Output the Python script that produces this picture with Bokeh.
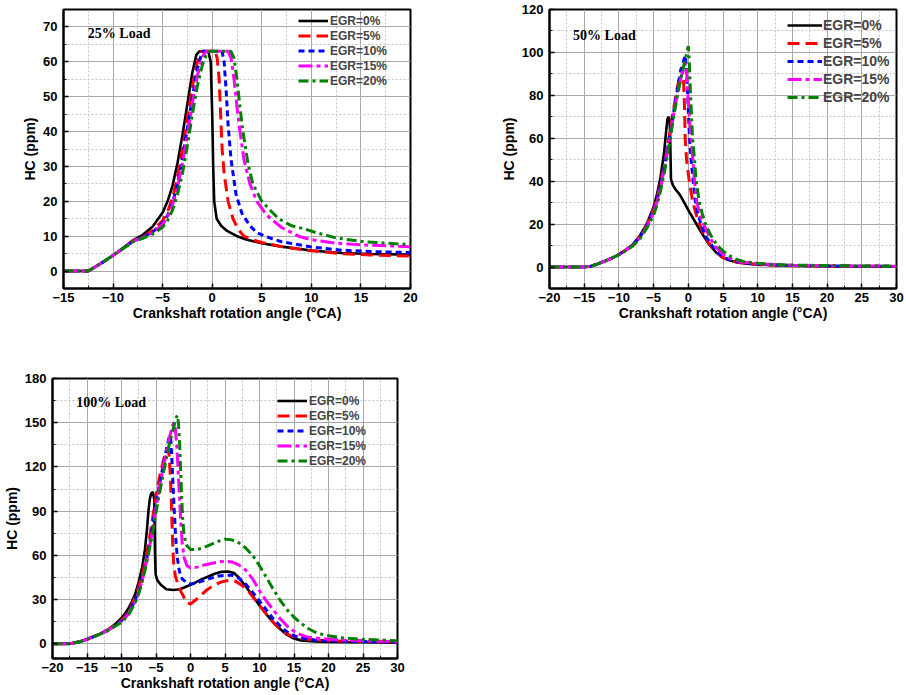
from bokeh.plotting import figure
from bokeh.layouts import column, row
from bokeh.models import SingleIntervalTicker, Label, Range1d
from bokeh.embed import file_html
from bokeh.resources import INLINE

# ---------------- data ----------------
EGR_LABELS = ["EGR=0%", "EGR=5%", "EGR=10%", "EGR=15%", "EGR=20%"]
X_TITLE = "Crankshaft rotation angle (°CA)"
Y_TITLE = "HC (ppm)"

# 25% load
l25_x0 = [-15, -12.5, -11, -10, -9, -8, -7, -6, -5, -4.5, -4, -3.5, -3, -2.5, -2, -1.6, -1.3, -0.4, -0.15, 0, 0.1, 0.2, 0.45, 0.9, 1.5, 2.5, 3.5, 5, 7, 10, 13, 16, 20]
l25_y0 = [0, 0, 2.6, 4.5, 6.6, 8.8, 10.4, 12.8, 16.8, 20, 24.5, 31, 39, 48, 57, 62, 63, 63, 60, 45, 30, 20, 15, 13, 11.5, 10, 9, 8, 7, 5.9, 5.2, 4.9, 4.7]
l25_x5 = [-15, -12.5, -11, -10, -9, -8, -7, -6, -5, -4.5, -4, -3.5, -3, -2.5, -2, -1.5, -1.1, 0.3, 0.5, 0.7, 0.85, 1.0, 1.2, 1.6, 2.1, 2.6, 3.2, 4, 5, 7, 10, 13, 16, 20]
l25_y5 = [0, 0, 2.6, 4.5, 6.5, 8.6, 9.8, 11.6, 14.5, 17, 21, 27, 35, 44, 53, 60, 63, 63, 61, 55, 45, 35, 28, 20, 15, 12, 10, 9, 8.2, 7, 5.8, 5, 4.6, 4.3]
l25_x10 = [-15, -12.5, -11, -10, -9, -8, -7, -6, -5, -4.5, -4, -3.5, -3, -2.5, -2, -1.5, -1.0, 1.0, 1.2, 1.4, 1.6, 1.9, 2.4, 3.0, 3.8, 4.5, 5.5, 7, 10, 13, 16, 20]
l25_y10 = [0, 0, 2.6, 4.5, 6.5, 8.5, 9.7, 11.2, 13.8, 16, 19.5, 25, 32.5, 41, 50, 58, 63, 63, 60, 52, 42, 32, 22, 16.5, 13, 11, 9.8, 8.4, 6.9, 6, 5.6, 5.3]
l25_x15 = [-15, -12.5, -11, -10, -9, -8, -7, -6, -5, -4.5, -4, -3.5, -3, -2.5, -2, -1.5, -1.0, -0.6, 1.6, 1.9, 2.2, 2.5, 2.8, 3.2, 3.8, 4.5, 5.5, 7, 8.7, 10, 12.5, 15, 20]
l25_y15 = [0, 0, 2.6, 4.5, 6.5, 8.5, 9.6, 11, 13.4, 15.5, 19, 24, 31, 39, 48, 56, 61.5, 63, 63, 61, 55, 47, 40, 32, 25, 20, 16, 12.5, 10, 9, 8, 7.5, 7]
l25_x20 = [-15, -12.5, -11, -10, -9, -8, -7, -6, -5, -4.5, -4, -3.5, -3, -2.5, -2, -1.5, -1.0, -0.6, -0.3, 1.9, 2.2, 2.5, 2.8, 3.1, 3.6, 4.1, 5.0, 6, 6.7, 8, 9.4, 10.5, 12.5, 15, 17.5, 20]
l25_y20 = [0, 0, 2.6, 4.5, 6.4, 8.4, 9.4, 10.6, 12.6, 14.5, 17.5, 22, 28, 36, 45, 53, 59, 62, 63, 63, 61, 55, 47, 40, 31, 25, 20, 17, 15, 13, 12, 11, 9.5, 8.5, 8, 7.6]

# 50% load
l50_x0 = [-20, -15, -14, -13, -12, -11, -10, -9, -8, -7, -6, -5, -4.5, -4, -3.5, -3.2, -3.0, -2.8, -2.65, -2.55, -2.5, -2.2, -1.8, -1.4, -1, -0.5, 0, 1, 2, 3, 4, 5, 6, 7, 8.5, 10, 15, 20, 25, 30]
l50_y0 = [0, 0, 0.4, 1.5, 2.8, 4.2, 5.8, 8, 10.5, 14.5, 20, 28, 34, 42, 53, 63, 69, 70, 66, 50, 41, 38, 36, 34.5, 32.5, 29.5, 26.5, 21, 15.5, 10.5, 6.8, 4.3, 3, 2.2, 1.5, 1.1, 0.6, 0.4, 0.3, 0.2]
l50_x5 = [-20, -15, -14, -13, -12, -11, -10, -9, -8, -7, -6, -5, -4.5, -4, -3.5, -3, -2.5, -2, -1.5, -1.1, -0.9, -0.7, -0.55, -0.45, -0.25, 0.1, 0.6, 1.0, 1.6, 2.4, 3.3, 4.7, 6, 7, 10, 15, 20, 25, 30]
l50_y5 = [0, 0, 0.4, 1.5, 2.8, 4.2, 5.8, 8, 10.3, 14, 19.5, 27, 32, 39, 47, 56, 66, 76, 85, 92, 93, 88, 75, 60, 50, 41, 31, 26, 20, 14, 9.5, 5, 3, 2.2, 1.2, 0.6, 0.5, 0.4, 0.3]
l50_x10 = [-20, -15, -14, -13, -12, -11, -10, -9, -8, -7, -6, -5, -4.5, -4, -3.5, -3, -2.5, -2, -1.5, -1, -0.6, -0.4, -0.25, -0.1, 0.15, 0.4, 0.7, 1.0, 1.4, 1.8, 2.5, 3.5, 4.5, 5.5, 7, 10, 15, 20, 25, 30]
l50_y10 = [0, 0, 0.4, 1.5, 2.8, 4.2, 5.8, 7.9, 10.2, 13.8, 19, 26.5, 31.5, 38, 46, 55, 64.5, 74.5, 84, 92, 97, 98.5, 90, 80, 62, 50, 40, 31, 25, 20, 14.5, 9.5, 6, 4, 2.5, 1.3, 0.7, 0.5, 0.4, 0.3]
l50_x15 = [-20, -15, -14, -13, -12, -11, -10, -9, -8, -7, -6, -5, -4.5, -4, -3.5, -3, -2.5, -2, -1.5, -1, -0.6, -0.4, -0.25, -0.1, 0.1, 0.4, 0.65, 0.9, 1.25, 1.7, 2.2, 3, 3.75, 5, 6, 7.5, 10, 15, 20, 25, 30]
l50_y15 = [0, 0, 0.4, 1.5, 2.8, 4.2, 5.8, 7.8, 10, 13.5, 18.5, 25.5, 30.5, 37, 45, 54, 63.5, 73.5, 82, 89, 93, 95, 92, 82, 72, 60, 50, 40, 30, 24, 20, 14.5, 10, 6, 4, 2.5, 1.5, 0.8, 0.6, 0.5, 0.4]
l50_x20 = [-20, -15, -14, -13, -12, -11, -10, -9, -8, -7, -6, -5, -4.5, -4, -3.5, -3, -2.5, -2, -1.5, -1, -0.5, -0.2, 0, 0.15, 0.3, 0.6, 0.9, 1.1, 1.6, 2.0, 2.5, 3.2, 4.2, 5, 5.8, 7, 8, 10, 12, 15, 20, 25, 30]
l50_y20 = [0, 0, 0.4, 1.5, 2.8, 4.2, 5.7, 7.6, 9.8, 13, 18, 24, 29, 35.5, 43, 52, 62, 72, 81, 89, 96, 100, 103, 95, 82, 61, 50, 41, 30, 25, 20, 15, 10, 7.5, 5.5, 3.5, 2.5, 1.8, 1.2, 0.9, 0.7, 0.5, 0.4]

# 100% load
l100_x0 = [-20, -17.5, -16, -15, -14, -13, -12, -11, -10, -9.5, -9, -8.5, -8, -7.5, -7, -6.6, -6.3, -6.1, -5.9, -5.7, -5.45, -5.25, -5.2, -5.15, -5.05, -4.8, -4.3, -3.5, -2.5, -1.5, -0.5, 0.5, 1.5, 2.5, 3.5, 4.5, 5.5, 6.3, 7, 8, 9, 10, 11, 12, 13, 14, 15, 16, 18, 20, 25, 30]
l100_y0 = [0, 0, 1.5, 3.2, 5, 7, 9.5, 13, 17.5, 20.5, 24, 28.5, 34, 42, 52, 64, 78, 90, 98, 102, 103, 98, 80, 62, 47, 43, 40, 37, 36.5, 37, 39, 41, 43.5, 45.5, 47.5, 48.8, 49, 48, 45, 39, 32.5, 26, 20, 14.5, 10, 6, 3.5, 2.3, 1.5, 1.2, 1, 0.8]
l100_x5 = [-20, -17.5, -16, -15, -14, -13, -12, -11, -10, -9.5, -9, -8.5, -8, -7.5, -7, -6.5, -6, -5.5, -5, -4.5, -4, -3.6, -3.3, -3.1, -2.9, -2.75, -2.6, -2.45, -2.2, -1.8, -1.4, -1.1, -0.6, 0, 0.7, 1.5, 2.5, 3.5, 4.5, 5.5, 6.5, 7.5, 8.5, 9.5, 10.5, 11.5, 12.5, 13.5, 14.5, 16, 18, 20, 25, 30]
l100_y5 = [0, 0, 1.5, 3.2, 5, 7, 9.3, 12.3, 16, 18.5, 22, 26.5, 32, 38.5, 47, 57, 70, 85, 100, 113, 123, 130, 133, 128, 112, 92, 70, 55, 46, 40, 35.5, 33, 28, 27, 29.5, 33, 37, 40, 42, 43, 42.5, 39.5, 35, 29, 23, 17, 12, 8, 5.5, 3.5, 2.5, 2, 1.5, 1.2]
l100_x10 = [-20, -17.5, -16, -15, -14, -13, -12, -11, -10, -9, -8, -7.5, -7, -6.5, -6, -5.5, -5, -4.5, -4, -3.5, -3.1, -2.9, -2.75, -2.55, -2.35, -2.15, -1.9, -1.6, -1.2, -0.6, 0, 1, 2, 3, 4, 5, 6, 7, 8, 9, 10, 11, 12, 13, 14, 15, 16, 18, 20, 25, 30]
l100_y10 = [0, 0, 1.4, 3, 4.8, 6.8, 9, 12, 15.5, 20.5, 30, 36, 44, 54, 66, 80, 95, 108, 120, 132, 140, 141, 130, 110, 90, 72, 58, 49, 44, 41.5, 40.5, 41.5, 43, 44.5, 46, 46.5, 46.5, 44.5, 40.5, 35, 29, 23, 17, 12, 8, 5.5, 4, 2.5, 2, 1.5, 1.2]
l100_x15 = [-20, -17.5, -16, -15, -14, -13, -12, -11, -10, -9, -8, -7.5, -7, -6.5, -6, -5.5, -5, -4.5, -4, -3.5, -3, -2.6, -2.4, -2.2, -2.0, -1.8, -1.6, -1.4, -1.2, -0.9, -0.5, 0, 1, 2, 3, 4, 5, 6, 7, 8, 9, 10, 11, 12, 13, 14, 15, 16, 17, 19, 22, 25, 30]
l100_y15 = [0, 0, 1.4, 3, 4.8, 6.8, 9, 12, 15, 20, 29, 35, 43, 53, 64, 77, 92, 106, 118, 130, 141, 148, 150, 146, 135, 118, 100, 82, 68, 58, 53, 51.5, 52, 53.5, 54.5, 55.5, 56, 55.5, 53.5, 50, 44, 36, 29, 23, 17, 12, 8.5, 6, 4.5, 3.5, 2.5, 2, 1.5]
l100_x20 = [-20, -17.5, -16, -15, -14, -13, -12, -11, -10, -9, -8, -7.5, -7, -6.5, -6, -5.5, -5, -4.5, -4, -3.5, -3, -2.5, -2.1, -1.9, -1.75, -1.6, -1.45, -1.3, -1.15, -0.95, -0.6, 0, 1, 2, 3, 4, 5, 6, 7, 8, 9, 10, 11, 12, 13, 14, 15, 16, 17, 18, 19, 20, 22, 25, 28, 30]
l100_y20 = [0, 0, 1.4, 3, 4.8, 6.7, 8.8, 11.7, 14.5, 19.5, 28, 34, 42, 52, 63, 75, 89, 102, 114, 126, 137, 146, 153, 155, 150, 138, 120, 102, 86, 74, 67, 64, 64, 65.5, 67.5, 69.5, 71, 70.5, 68.5, 65, 60, 53, 45, 37, 29.5, 23, 18, 14, 10.5, 8, 6.5, 5.5, 4, 3, 2.5, 2]

PANELS = [
    {"load": "25% Load", "xr": (-15, 20), "yr": (-5, 75), "yint": 10,
     "xs": [l25_x0, l25_x5, l25_x10, l25_x15, l25_x20],
     "ys": [l25_y0, l25_y5, l25_y10, l25_y15, l25_y20],
     "load_at": (-12.55, 68)},
    {"load": "50% Load", "xr": (-20, 30), "yr": (-10, 120), "yint": 20,
     "xs": [l50_x0, l50_x5, l50_x10, l50_x15, l50_x20],
     "ys": [l50_y0, l50_y5, l50_y10, l50_y15, l50_y20],
     "load_at": (-16.6, 108)},
    {"load": "100% Load", "xr": (-20, 30), "yr": (-10, 180), "yint": 30,
     "xs": [l100_x0, l100_x5, l100_x10, l100_x15, l100_x20],
     "ys": [l100_y0, l100_y5, l100_y10, l100_y15, l100_y20],
     "load_at": (-16.55, 163.5)},
]

# ---------------- styles ----------------
COLORS = ["#000000", "#ff0000", "#0000ff", "#ff00ff", "#008000"]
DASHES = ["solid", "12 6", "6 4", "14 4 4 4", "10 4 3 4"]
WIDTHS = [2.6, 3, 3, 3, 3]
SANS = "Liberation Sans"
SERIF = "Liberation Serif"


def make_panel(cfg, width, height, mb, legend_cfg):
    p = figure(width=width, height=height, output_backend="svg", toolbar_location=None,
               x_range=Range1d(*cfg["xr"]), y_range=Range1d(*cfg["yr"]),
               min_border_left=mb[0], min_border_right=mb[1],
               min_border_top=mb[2], min_border_bottom=mb[3])
    p.background_fill_color = "white"
    p.border_fill_color = "white"
    p.outline_line_color = "black"
    p.outline_line_width = 2
    p.outline_line_alpha = 1

    xt = SingleIntervalTicker(interval=5, num_minor_ticks=2)
    yt = SingleIntervalTicker(interval=cfg["yint"], num_minor_ticks=2)
    p.xaxis.ticker = xt
    p.yaxis.ticker = yt
    p.xgrid.ticker = xt
    p.ygrid.ticker = yt

    for ax in (p.xaxis[0], p.yaxis[0]):
        ax.axis_line_color = "black"
        ax.axis_line_width = 2
        ax.major_tick_in = 5
        ax.major_tick_out = 0
        ax.minor_tick_in = 3
        ax.minor_tick_out = 0
        ax.major_tick_line_width = 1.5
        ax.major_tick_line_color = "black"
        ax.minor_tick_line_color = "black"
        ax.major_label_text_font = SANS
        ax.major_label_text_font_style = "bold"
        ax.major_label_text_font_size = "13px"
        ax.major_label_text_color = "black"
        ax.axis_label_text_font = SANS
        ax.axis_label_text_font_style = "bold"
        ax.axis_label_text_font_size = "14px"
        ax.axis_label_text_color = "black"
    p.xaxis.axis_label = X_TITLE
    p.yaxis.axis_label = Y_TITLE
    p.xaxis.major_label_standoff = 4
    p.xaxis.axis_label_standoff = 0
    p.yaxis.major_label_standoff = 6
    p.yaxis.axis_label_standoff = 2

    p.grid.grid_line_color = "#a8a8a8"
    p.grid.grid_line_width = 1
    p.grid.minor_grid_line_color = "#c4c4c4"
    p.grid.minor_grid_line_dash = "2 2"
    p.grid.minor_grid_line_width = 1

    for i, lab in enumerate(EGR_LABELS):
        p.line(cfg["xs"][i], cfg["ys"][i], line_color=COLORS[i], line_width=WIDTHS[i],
               line_dash=DASHES[i], legend_label=lab)

    lg = p.legend[0]
    lg.location = legend_cfg["loc"]
    lg.padding = 0
    lg.margin = 0
    lg.spacing = 0
    lg.glyph_width = legend_cfg["gw"]
    lg.glyph_height = legend_cfg["rh"]
    lg.label_height = legend_cfg["rh"]
    lg.label_standoff = legend_cfg["so"]
    lg.label_text_font = SANS
    lg.label_text_font_style = "bold"
    lg.label_text_font_size = legend_cfg["fs"]
    lg.background_fill_alpha = 0
    lg.border_line_alpha = 0

    p.add_layout(Label(x=cfg["load_at"][0], y=cfg["load_at"][1], text=cfg["load"],
                       text_font=SERIF, text_font_style="bold", text_font_size="14px",
                       text_baseline="middle", text_align="left", text_color="black"))
    return p


# page origin is (0, 0): frames placed to match the reference pixel positions
p1 = make_panel(PANELS[0], 478, 326, (63, 68, 9, 38),
                {"loc": (235, 200), "gw": 30, "rh": 15, "so": 2, "fs": "12px"})
p2 = make_panel(PANELS[1], 428, 326, (71, 10, 9, 38),
                {"loc": (238, 182), "gw": 35, "rh": 18, "so": 1, "fs": "14px"})
p3 = make_panel(PANELS[2], 430, 369, (49, 33, 52, 37),
                {"loc": (225, 190), "gw": 30, "rh": 15, "so": 2, "fs": "12px"})

layout = column(row(p1, p2), p3)

open("out.html", "w").write(file_html(layout, INLINE))
